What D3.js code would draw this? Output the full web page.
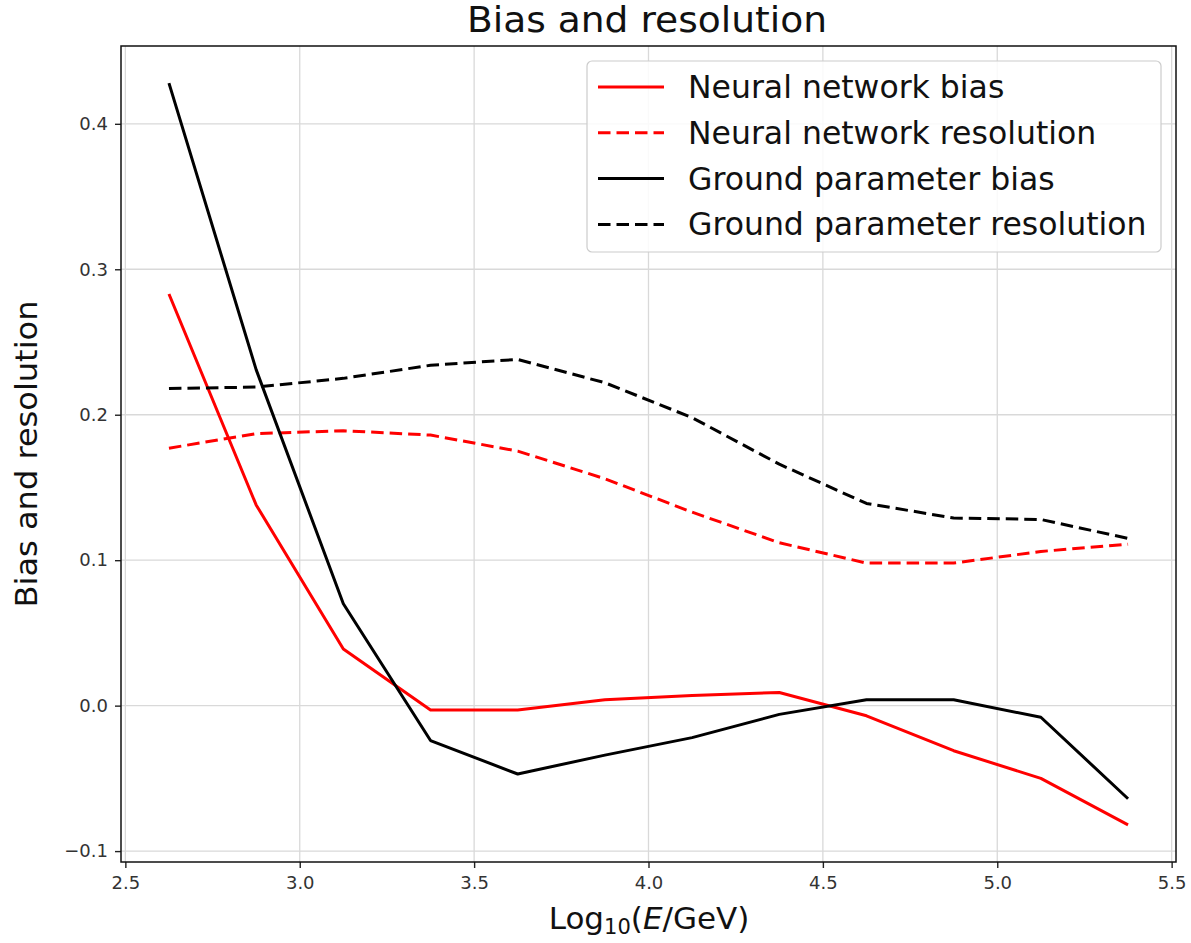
<!DOCTYPE html>
<html><head><meta charset="utf-8">
<script src="https://cdn.jsdelivr.net/npm/d3@7"></script>
<style>
body{margin:0;background:#fff;}
text{font-family:"DejaVu Sans",sans-serif;}
</style></head>
<body><svg id="chart" width="1191" height="943"></svg>
<script>
const energies = [2.625, 2.875, 3.125, 3.375, 3.625, 3.875, 4.125, 4.375, 4.625, 4.875, 5.125, 5.375];
const nnBias = [0.283, 0.138, 0.039, -0.003, -0.003, 0.004, 0.007, 0.009, -0.007, -0.031, -0.050, -0.082];
const nnRes = [0.177, 0.187, 0.189, 0.186, 0.175, 0.156, 0.133, 0.112, 0.098, 0.098, 0.106, 0.111];
const gpBias = [0.428, 0.231, 0.070, -0.024, -0.047, -0.034, -0.022, -0.006, 0.004, 0.004, -0.008, -0.064];
const gpRes = [0.218, 0.219, 0.225, 0.234, 0.238, 0.222, 0.198, 0.166, 0.139, 0.129, 0.128, 0.115];
const xTicks = [2.5, 3.0, 3.5, 4.0, 4.5, 5.0, 5.5];
const yTicks = [-0.1, 0.0, 0.1, 0.2, 0.3, 0.4];
const seriesNames = ["Neural network bias", "Neural network resolution", "Ground parameter bias", "Ground parameter resolution"];

const series = [
  {name: seriesNames[0], values: nnBias, color: "#ff0000", dash: null},
  {name: seriesNames[1], values: nnRes, color: "#ff0000", dash: "12.5,6"},
  {name: seriesNames[2], values: gpBias, color: "#000000", dash: null},
  {name: seriesNames[3], values: gpRes, color: "#000000", dash: "12.5,6"}
];

const svg = d3.select("#chart");
const L = 121, R = 1176, T = 46, B = 862;
const x = d3.scaleLinear().domain([2.4875, 5.5125]).range([L, R]);
const y = d3.scaleLinear().domain([-0.1075, 0.4535]).range([B, T]);

// grid
svg.append("g").selectAll("line").data(xTicks).join("line")
  .attr("x1", d => x(d)).attr("x2", d => x(d)).attr("y1", T).attr("y2", B)
  .attr("stroke", "#d9d9d9").attr("stroke-width", 1.3);
svg.append("g").selectAll("line").data(yTicks).join("line")
  .attr("y1", d => y(d)).attr("y2", d => y(d)).attr("x1", L).attr("x2", R)
  .attr("stroke", "#d9d9d9").attr("stroke-width", 1.3);

// axes
const xAxis = d3.axisBottom(x).tickValues(xTicks).tickFormat(d3.format(".1f")).tickSize(6).tickPadding(8);
const yAxis = d3.axisLeft(y).tickValues(yTicks).tickFormat(d => d3.format(".1f")(d).replace("-", "\u2212")).tickSize(6).tickPadding(7);
const gx = svg.append("g").attr("transform", `translate(0,${B})`).call(xAxis);
const gy = svg.append("g").attr("transform", `translate(${L},0)`).call(yAxis);
[gx, gy].forEach(g => {
  g.select(".domain").remove();
  g.selectAll(".tick line").attr("stroke", "#222").attr("stroke-width", 1.4);
  g.selectAll(".tick text").attr("font-size", 18).attr("fill", "#333").attr("font-family", "DejaVu Sans");
});

// lines
const line = d3.line().x((d, i) => x(energies[i])).y(d => y(d));
const lg = svg.append("g");
series.forEach(s => {
  lg.append("path").datum(s.values).attr("d", line)
    .attr("fill", "none").attr("stroke", s.color).attr("stroke-width", 3)
    .attr("stroke-dasharray", s.dash).attr("stroke-linejoin", "round");
});

// frame
svg.append("rect").attr("x", L).attr("y", T).attr("width", R - L).attr("height", B - T)
  .attr("fill", "none").attr("stroke", "#111").attr("stroke-width", 1.5);

// legend
const leg = svg.append("g");
leg.append("rect").attr("x", 587).attr("y", 61).attr("width", 574).attr("height", 191)
  .attr("rx", 5).attr("fill", "#fff").attr("fill-opacity", 0.85).attr("stroke", "#ccc").attr("stroke-width", 1.2);
series.forEach((s, i) => {
  const yy = 87 + i * 45.8;
  leg.append("line").attr("x1", 598).attr("x2", 664).attr("y1", yy).attr("y2", yy)
    .attr("stroke", s.color).attr("stroke-width", 3).attr("stroke-dasharray", s.dash);
  leg.append("text").attr("x", 688).attr("y", yy + 11).attr("font-size", 31.5).attr("fill", "#111").text(s.name);
});

// title and labels
svg.append("text").attr("x", 647).attr("y", 32).attr("text-anchor", "middle")
  .attr("font-size", 36).attr("fill", "#111")
  .attr("textLength", 360).attr("lengthAdjust", "spacingAndGlyphs").text("Bias and resolution");
svg.append("text").attr("transform", `translate(37,454) rotate(-90)`).attr("text-anchor", "middle")
  .attr("font-size", 31).attr("fill", "#111")
  .attr("textLength", 307).attr("lengthAdjust", "spacingAndGlyphs").text("Bias and resolution");
const xl = svg.append("text").attr("x", 649).attr("y", 929).attr("text-anchor", "middle")
  .attr("font-size", 31).attr("fill", "#111");
xl.append("tspan").text("Log");
xl.append("tspan").attr("font-size", 21).attr("dy", 5).text("10");
xl.append("tspan").attr("dy", -5).text("(");
xl.append("tspan").attr("font-style", "italic").text("E");
xl.append("tspan").text("/GeV)");
</script></body></html>
